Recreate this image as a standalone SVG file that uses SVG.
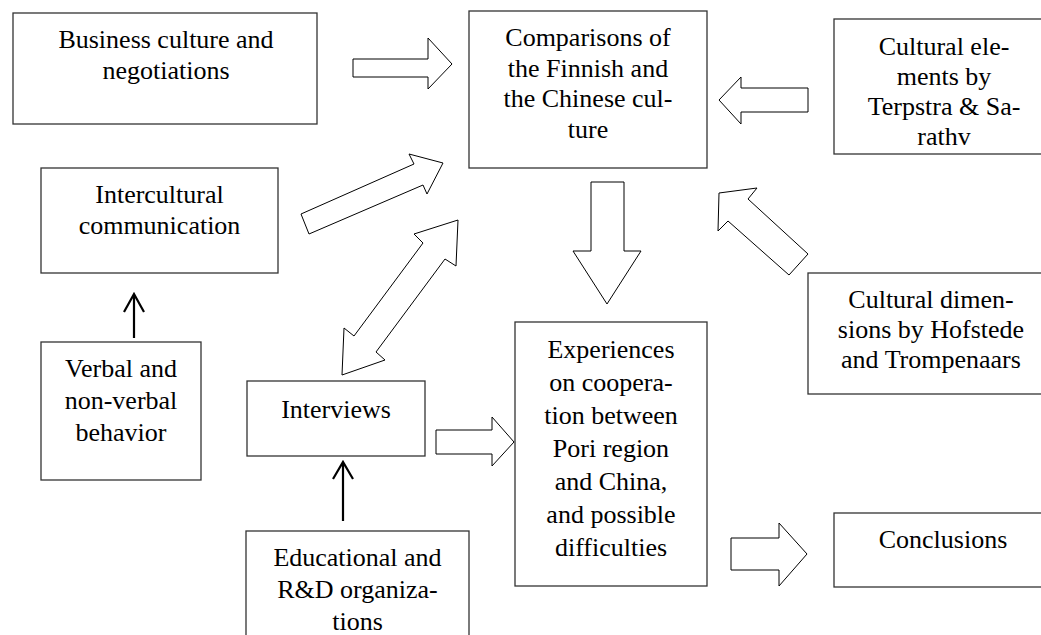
<svg xmlns="http://www.w3.org/2000/svg" width="1041" height="635" viewBox="0 0 1041 635">
<style>
.box{fill:#fff;stroke:#333;stroke-width:1.3}
.t{font-family:"Liberation Serif","Times New Roman",serif;font-size:26px;fill:#000;text-anchor:middle}
.blk{fill:#fff;stroke:#000;stroke-width:1}
.ln{fill:none;stroke:#000;stroke-width:2.2}
</style>
<rect width="1041" height="635" fill="#fff"/>
<g id="connectors">
<polygon class="blk" points="353,59 428,59 428,38 452,64 428,89 428,77 353,77"/>
<polygon class="blk" points="808,88 741,88 741,77 719,100 741,124 741,112 808,112"/>
<polygon class="blk" points="301,214 414,164 409,154 443,163 427,194 423,185 309,234"/>
<polygon class="blk" points="458,220 414,234 423,243 354,336 344,328 342,375 385,360 376,352 445,259 456,266"/>
<polygon class="blk" points="591,182 624,182 624,251 641,251 607,304 573,251 591,251"/>
<polygon class="blk" points="719,193 757,188 748,199 808,254 789,275 728,221 718,231"/>
<polygon class="blk" points="436,430 492,430 492,417 514,442 492,466 492,454 436,454"/>
<polygon class="blk" points="731,538 779,538 779,523 807,554 779,586 779,570 731,570"/>
<path class="ln" d="M134,338 V294 M124,312 L134,294 L144,312"/>
<path class="ln" d="M343,521 V462 M333,479 L343,462 L353,479"/>
</g>
<g id="n-business">
<rect class="box" x="13" y="13" width="304" height="111"/>
<text class="t" x="166" y="48">Business culture and</text>
<text class="t" x="166" y="79">negotiations</text>
</g>
<g id="n-comparisons">
<rect class="box" x="469" y="11" width="238" height="157"/>
<text class="t" x="588" y="46">Comparisons of</text>
<text class="t" x="588" y="76.5">the Finnish and</text>
<text class="t" x="588" y="107">the Chinese cul-</text>
<text class="t" x="588" y="137.5">ture</text>
</g>
<g id="n-elements">
<rect class="box" x="834" y="19" width="220" height="135"/>
<text class="t" x="944" y="55">Cultural ele-</text>
<text class="t" x="944" y="85">ments by</text>
<text class="t" x="944" y="115">Terpstra &amp; Sa-</text>
<text class="t" x="944" y="145">rathv</text>
</g>
<g id="n-intercultural">
<rect class="box" x="41" y="168" width="237" height="105"/>
<text class="t" x="159.5" y="203">Intercultural</text>
<text class="t" x="159.5" y="234">communication</text>
</g>
<g id="n-verbal">
<rect class="box" x="41" y="342" width="160" height="138"/>
<text class="t" x="121" y="377">Verbal and</text>
<text class="t" x="121" y="409">non-verbal</text>
<text class="t" x="121" y="441">behavior</text>
</g>
<g id="n-interviews">
<rect class="box" x="247" y="381" width="178" height="75"/>
<text class="t" x="336" y="418">Interviews</text>
</g>
<g id="n-educational">
<rect class="box" x="246" y="531" width="223" height="120"/>
<text class="t" x="357.5" y="566">Educational and</text>
<text class="t" x="357.5" y="598">R&amp;D organiza-</text>
<text class="t" x="357.5" y="630">tions</text>
</g>
<g id="n-experiences">
<rect class="box" x="515" y="322" width="192" height="264"/>
<text class="t" x="611" y="358">Experiences</text>
<text class="t" x="611" y="391">on coopera-</text>
<text class="t" x="611" y="424">tion between</text>
<text class="t" x="611" y="457">Pori region</text>
<text class="t" x="611" y="490">and China,</text>
<text class="t" x="611" y="523">and possible</text>
<text class="t" x="611" y="556">difficulties</text>
</g>
<g id="n-dimensions">
<rect class="box" x="808" y="273" width="246" height="121"/>
<text class="t" x="931" y="308">Cultural dimen-</text>
<text class="t" x="931" y="338">sions by Hofstede</text>
<text class="t" x="931" y="368">and Trompenaars</text>
</g>
<g id="n-conclusions">
<rect class="box" x="834" y="513" width="220" height="74"/>
<text class="t" x="943" y="548">Conclusions</text>
</g>
</svg>
